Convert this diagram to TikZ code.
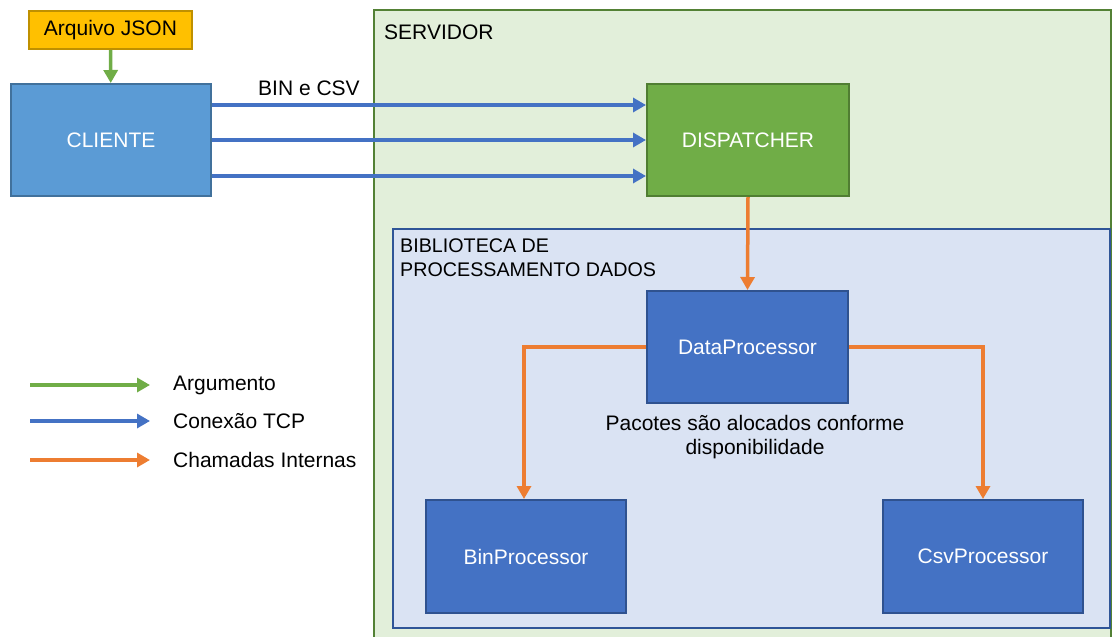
\documentclass[tikz,border=0pt]{standalone}
\usepackage{fontspec}
\setmainfont{Liberation Sans}
\usetikzlibrary{arrows.meta}
\definecolor{jsonfill}{HTML}{FFC000}
\definecolor{jsonline}{HTML}{BF9000}
\definecolor{clifill}{HTML}{5B9BD5}
\definecolor{cliline}{HTML}{41719C}
\definecolor{srvfill}{HTML}{E2EFDA}
\definecolor{srvline}{HTML}{538135}
\definecolor{dspfill}{HTML}{70AD47}
\definecolor{dspline}{HTML}{507E32}
\definecolor{libfill}{HTML}{DAE3F3}
\definecolor{libline}{HTML}{2F5597}
\definecolor{procfill}{HTML}{4472C4}
\definecolor{procline}{HTML}{2F528F}
\definecolor{argc}{HTML}{70AD47}
\definecolor{tcpc}{HTML}{4472C4}
\definecolor{intc}{HTML}{ED7D31}
\begin{document}
\begin{tikzpicture}[x=1pt,y=-1pt,
  font=\fontsize{21}{25}\selectfont,
  box/.style={draw,line width=2pt,inner sep=0pt,text=white,anchor=center},
  procbox/.style={box,fill=procfill,draw=procline,minimum width=200pt,minimum height=112pt},
  conn/.style={line width=3.5pt,-{Triangle[length=13pt,width=14pt]}},
  argarrow/.style={conn,draw=argc},
  tcparrow/.style={conn,draw=tcpc},
  intarrow/.style={conn,draw=intc},
  lbl/.style={anchor=west,inner sep=0pt,text=black}
]
\useasboundingbox (0,0) rectangle (1112,637);
\begin{scope}
\clip (0,0) rectangle (1112,637);
% servidor
\draw[fill=srvfill,draw=srvline,line width=2.5pt] (374,10) rectangle (1111,660);
\end{scope}
\node[lbl] (srvlbl) at (384,32) {SERVIDOR};
% biblioteca
\draw[fill=libfill,draw=libline,line width=2.5pt] (393,229) rectangle (1110,628);
\node[lbl,align=left,font=\fontsize{19.7}{24}\selectfont] (liblbl) at (400,257.5) {BIBLIOTECA DE\\[0pt]PROCESSAMENTO DADOS};
% nodes
\node[box,fill=jsonfill,draw=jsonline,text=black,minimum width=163pt,minimum height=38pt] (json) at (110.5,30) {Arquivo JSON};
\node[box,fill=clifill,draw=cliline,minimum width=200pt,minimum height=112pt] (cli) at (111,140) {CLIENTE};
\node[box,fill=dspfill,draw=dspline,minimum width=202pt,minimum height=112pt] (disp) at (748,140) {DISPATCHER};
\node[procbox,minimum width=201pt] (dp) at (747.5,347) {DataProcessor};
\node[procbox,minimum height=113pt] (bin) at (526,556.5) {BinProcessor};
\node[procbox,minimum height=113pt] (csv) at (983,556.5) {CsvProcessor};
\node[align=center,inner sep=0pt] (note) at (755,437) {Pacotes são alocados conforme\\[-1pt]disponibilidade};
% connectors
\draw[argarrow] (json) -- (cli);
\draw[tcparrow] ([yshift=35pt]cli.east) -- ([yshift=35pt]disp.west);
\draw[tcparrow] (cli.east) -- (disp.west);
\draw[tcparrow] ([yshift=-36pt]cli.east) -- ([yshift=-36pt]disp.west);
\node[lbl] (binlbl) at (258,88) {BIN e CSV};
\draw[intarrow] (disp.south) -- (dp.north);
\draw[intarrow] (dp.west) -| ([xshift=-2pt]bin.north);
\draw[intarrow] (dp.east) -| (csv.north);
% legend
\coordinate (l1a) at (30,385); \coordinate (l1b) at (150,385);
\coordinate (l2a) at (30,421); \coordinate (l2b) at (150,421);
\coordinate (l3a) at (30,460); \coordinate (l3b) at (150,460);
\draw[argarrow] (l1a) -- (l1b);
\draw[tcparrow] (l2a) -- (l2b);
\draw[intarrow] (l3a) -- (l3b);
\node[lbl] (lg1) at (173,385) {Argumento};
\node[lbl] (lg2) at (173,421) {Conexão TCP};
\node[lbl] (lg3) at (173,460) {Chamadas Internas};
\end{tikzpicture}
\end{document}
